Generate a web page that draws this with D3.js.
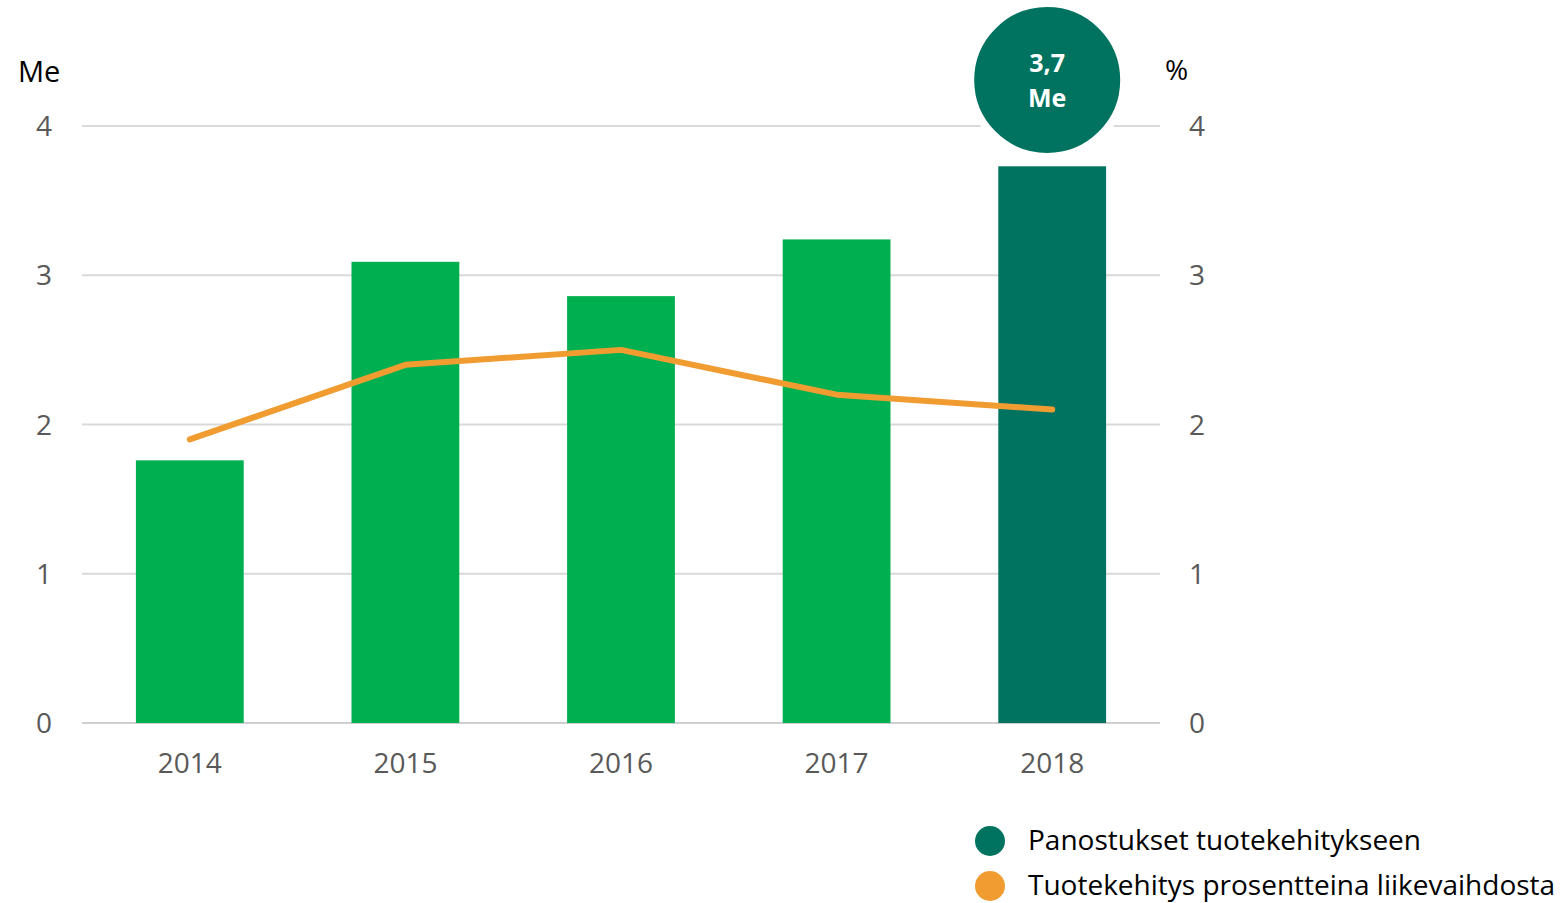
<!DOCTYPE html>
<html>
<head>
<meta charset="utf-8">
<script src="https://cdn.jsdelivr.net/npm/d3@7"></script>
<style>
	body { margin: 0; background: #fff; }
	svg { font-family: "Open Sans", sans-serif; }
</style>
</head>
<body>
<svg id="chart" width="1564" height="903"></svg>
<script>
// chart data
const years = ["2014", "2015", "2016", "2017", "2018"];
const investments = [1.76, 3.09, 2.86, 3.24, 3.73]; // Me
const percentOfSales = [1.9, 2.4, 2.5, 2.2, 2.1]; // %
const yTicks = [0, 1, 2, 3, 4];
const legendLabels = ["Panostukset tuotekehitykseen", "Tuotekehitys prosentteina liikevaihdosta"];
const badgeLines = ["3,7", "Me"];

const green = "#00b050";
const darkGreen = "#007360";
const orange = "#f09c31";

const svg = d3.select("#chart");
const plotLeft = 82, plotRight = 1160, plotTop = 126, plotBottom = 723;

const x = d3.scaleBand().domain(years).range([plotLeft, plotRight]).paddingInner(0.5).paddingOuter(0.25);
const yLeft = d3.scaleLinear().domain([0, 4]).range([plotBottom, plotTop]);
const yRight = d3.scaleLinear().domain([0, 4]).range([plotBottom, plotTop]);

// grid lines
svg.append("g")
	.selectAll("line")
	.data(yTicks)
	.enter()
	.append("line")
	.attr("x1", plotLeft)
	.attr("x2", plotRight)
	.attr("y1", (d) => yLeft(d))
	.attr("y2", (d) => yLeft(d))
	.attr("stroke", (d) => (d === 0 ? "#d0d0d0" : "#d9d9d9"))
	.attr("stroke-width", 2);

// left axis labels
svg.append("g")
	.selectAll("text")
	.data(yTicks)
	.enter()
	.append("text")
	.attr("x", 44)
	.attr("y", (d) => yLeft(d) + 10)
	.attr("text-anchor", "middle")
	.attr("font-size", 28)
	.attr("fill", "#595959")
	.text((d) => d);

// right axis labels
svg.append("g")
	.selectAll("text")
	.data(yTicks)
	.enter()
	.append("text")
	.attr("x", 1197)
	.attr("y", (d) => yRight(d) + 10)
	.attr("text-anchor", "middle")
	.attr("font-size", 28)
	.attr("fill", "#595959")
	.text((d) => d);

// x axis labels
svg.append("g")
	.selectAll("text")
	.data(years)
	.enter()
	.append("text")
	.attr("x", (d) => x(d) + x.bandwidth() / 2)
	.attr("y", 773)
	.attr("text-anchor", "middle")
	.attr("font-size", 28)
	.attr("fill", "#595959")
	.text((d) => d);

// unit labels
svg.append("text").attr("x", 18).attr("y", 82).attr("font-size", 29).attr("fill", "#000").text("Me");
svg.append("text").attr("x", 1165).attr("y", 80).attr("font-size", 28).attr("fill", "#000").text("%");

// bars
svg.append("g")
	.selectAll("rect")
	.data(investments)
	.enter()
	.append("rect")
	.attr("x", (d, i) => x(years[i]))
	.attr("y", (d) => yLeft(d))
	.attr("width", x.bandwidth())
	.attr("height", (d) => plotBottom - yLeft(d))
	.attr("fill", (d, i) => (i === years.length - 1 ? darkGreen : green));

// line
const line = d3.line()
	.x((d, i) => x(years[i]) + x.bandwidth() / 2)
	.y((d) => yRight(d));

svg.append("path")
	.datum(percentOfSales)
	.attr("d", line)
	.attr("fill", "none")
	.attr("stroke", orange)
	.attr("stroke-width", 6)
	.attr("stroke-linecap", "round")
	.attr("stroke-linejoin", "round");

// badge for last year
const lastX = x(years[years.length - 1]) + x.bandwidth() / 2 - 5;
svg.append("circle")
	.attr("cx", lastX)
	.attr("cy", 80)
	.attr("r", 77)
	.attr("fill", darkGreen)
	.attr("stroke", "#fff")
	.attr("stroke-width", 8);
svg.append("g")
	.selectAll("text")
	.data(badgeLines)
	.enter()
	.append("text")
	.attr("x", lastX)
	.attr("y", (d, i) => 72 + i * 35)
	.attr("text-anchor", "middle")
	.attr("font-size", 25)
	.attr("font-weight", "bold")
	.attr("fill", "#fff")
	.text((d) => d);

// legend
const legend = svg.append("g");
legendLabels.forEach((label, i) => {
	legend.append("circle")
		.attr("cx", 990)
		.attr("cy", 841 + i * 45)
		.attr("r", 15)
		.attr("fill", i === 0 ? darkGreen : orange);
	legend.append("text")
		.attr("x", 1028)
		.attr("y", 850 + i * 45)
		.attr("font-size", 28)
		.attr("fill", "#000")
		.text(label);
});
</script>
</body>
</html>
